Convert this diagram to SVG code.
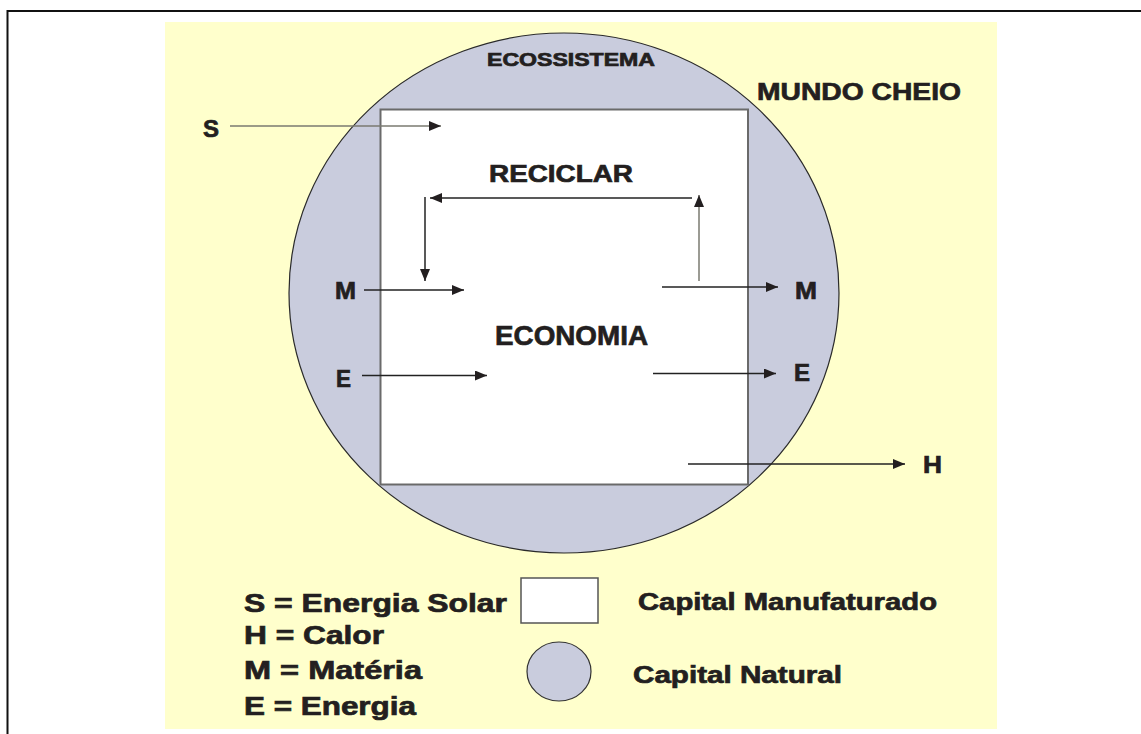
<svg xmlns="http://www.w3.org/2000/svg" width="1141" height="734" viewBox="0 0 1141 734">
<style>
  text { font-family: "Liberation Sans", Arial, sans-serif; font-weight: bold; fill: #231f20; stroke: #231f20; stroke-width: 0.7; }
  .conn { fill: none; stroke: #222; stroke-width: 1.5; }
  .gray { stroke: #7a7a70; }
</style>
<defs>
  <marker id="ah" markerUnits="userSpaceOnUse" markerWidth="13" markerHeight="11" refX="12" refY="5" orient="auto">
    <path d="M0,0 L12,5 L0,10 Z" fill="#231f20"/>
  </marker>
</defs>
<rect x="0" y="0" width="1141" height="734" fill="#ffffff"/>
<path d="M7.5,734 L7.5,11 L1141,11" fill="none" stroke="#111" stroke-width="2"/>
<rect x="165" y="22" width="832" height="707" fill="#ffffcc"/>

<g id="ecossistema">
  <ellipse cx="564" cy="293" rx="275" ry="260" fill="#c9ccdd" stroke="#2a2a2a" stroke-width="1.2"/>
  <text x="487" y="66" font-size="18" textLength="168" lengthAdjust="spacingAndGlyphs">ECOSSISTEMA</text>
</g>

<g id="mundo-cheio">
  <text x="757" y="100" font-size="24" textLength="204" lengthAdjust="spacingAndGlyphs">MUNDO CHEIO</text>
</g>

<g id="economia">
  <rect x="380.5" y="109.5" width="367.5" height="375" fill="#ffffff" stroke="#6a6a6a" stroke-width="2"/>
  <text x="495" y="345" font-size="28" textLength="153" lengthAdjust="spacingAndGlyphs">ECONOMIA</text>
</g>

<g id="reciclar">
  <text x="489" y="182" font-size="24" textLength="144" lengthAdjust="spacingAndGlyphs">RECICLAR</text>
</g>

<g id="labels">
  <text x="203" y="137" font-size="23" textLength="16" lengthAdjust="spacingAndGlyphs">S</text>
  <text x="335" y="299" font-size="23" textLength="21" lengthAdjust="spacingAndGlyphs">M</text>
  <text x="336" y="387" font-size="23" textLength="15" lengthAdjust="spacingAndGlyphs">E</text>
  <text x="795" y="299" font-size="23" textLength="22" lengthAdjust="spacingAndGlyphs">M</text>
  <text x="794" y="381" font-size="23" textLength="16" lengthAdjust="spacingAndGlyphs">E</text>
  <text x="923" y="473" font-size="23" textLength="19" lengthAdjust="spacingAndGlyphs">H</text>
</g>

<g id="connectors">
  <line class="conn gray" x1="230" y1="126" x2="441" y2="126" marker-end="url(#ah)"/>
  <line class="conn" x1="692" y1="198" x2="430" y2="198" marker-end="url(#ah)"/>
  <line class="conn" x1="425" y1="197" x2="425" y2="281" marker-end="url(#ah)"/>
  <line class="conn gray" x1="699" y1="281" x2="699" y2="195" marker-end="url(#ah)"/>
  <line class="conn" x1="364" y1="290" x2="464" y2="290" marker-end="url(#ah)"/>
  <line class="conn" x1="662" y1="287" x2="778" y2="287" marker-end="url(#ah)"/>
  <line class="conn" x1="362" y1="375.5" x2="487" y2="375.5" marker-end="url(#ah)"/>
  <line class="conn" x1="653" y1="373.5" x2="776" y2="373.5" marker-end="url(#ah)"/>
  <line class="conn" x1="688" y1="464" x2="905" y2="464" marker-end="url(#ah)"/>
</g>

<g id="legenda">
  <text x="244" y="612" font-size="25" textLength="263" lengthAdjust="spacingAndGlyphs">S = Energia Solar</text>
  <text x="244" y="644" font-size="25" textLength="140" lengthAdjust="spacingAndGlyphs">H = Calor</text>
  <text x="244" y="679" font-size="25" textLength="178" lengthAdjust="spacingAndGlyphs">M = Matéria</text>
  <text x="244" y="715" font-size="25" textLength="172" lengthAdjust="spacingAndGlyphs">E = Energia</text>
  <g id="legenda-capital-manufaturado">
    <rect x="521" y="578" width="77" height="45" fill="#ffffff" stroke="#555" stroke-width="1.5"/>
    <text x="638" y="610" font-size="24" textLength="299" lengthAdjust="spacingAndGlyphs">Capital Manufaturado</text>
  </g>
  <g id="legenda-capital-natural">
    <ellipse cx="559" cy="671.5" rx="32" ry="29.5" fill="#c9ccdd" stroke="#333" stroke-width="1.2"/>
    <text x="633" y="683" font-size="24" textLength="209" lengthAdjust="spacingAndGlyphs">Capital Natural</text>
  </g>
</g>
</svg>
